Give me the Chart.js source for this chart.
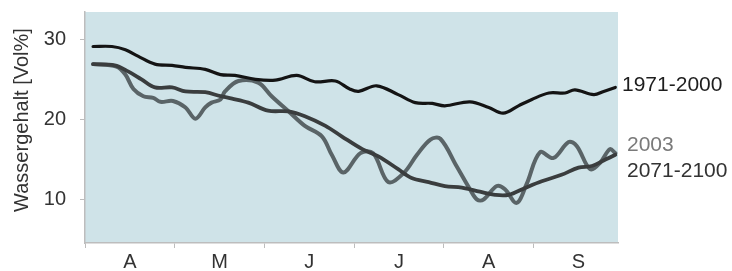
<!DOCTYPE html>
<html>
<head>
<meta charset="utf-8">
<script src="https://cdn.jsdelivr.net/npm/chart.js@4.4.0/dist/chart.umd.min.js"></script>
<style>
  html, body { margin: 0; padding: 0; background: #fff; }
  #wrap { width: 732px; height: 271px; }
</style>
</head>
<body>
<div id="wrap"><canvas id="chart"></canvas></div>
<script>
// months (x in month units, 0 = start of April)
const monthLabels = ["A", "M", "J", "J", "A", "S"]
const yTicks = [10, 20, 30]

// 1971-2000
const refX = [0.09, 0.30, 0.45, 0.59, 0.78, 0.97, 1.12, 1.34, 1.51, 1.67, 1.90, 2.12, 2.36, 2.56, 2.79, 2.95, 3.05, 3.25, 3.49, 3.68, 3.87, 4.01, 4.29, 4.50, 4.66, 4.83, 4.98, 5.17, 5.35, 5.46, 5.67, 5.78, 5.91]
const refY = [29.1, 29.1, 28.7, 27.9, 26.9, 26.75, 26.5, 26.25, 25.6, 25.5, 25.0, 24.9, 25.5, 24.7, 24.8, 23.8, 23.5, 24.2, 23.1, 22.1, 22.0, 21.7, 22.2, 21.5, 20.8, 21.7, 22.5, 23.3, 23.3, 23.7, 23.1, 23.5, 24.0]

// 2003
const y2003X = [0.09, 0.35, 0.45, 0.54, 0.65, 0.76, 0.84, 0.98, 1.12, 1.23, 1.34, 1.41, 1.51, 1.56, 1.71, 1.93, 2.08, 2.27, 2.45, 2.64, 2.75, 2.88, 3.07, 3.21, 3.38, 3.55, 3.70, 3.85, 3.96, 4.14, 4.29, 4.37, 4.44, 4.59, 4.68, 4.81, 4.92, 5.07, 5.22, 5.39, 5.48, 5.63, 5.74, 5.85, 5.91]
const y2003Y = [26.9, 26.6, 25.6, 23.8, 22.9, 22.7, 22.2, 22.3, 21.5, 20.1, 21.5, 22.1, 22.5, 23.5, 24.8, 24.6, 22.9, 21.0, 19.2, 17.9, 15.6, 13.4, 15.8, 15.8, 12.2, 13.3, 15.6, 17.5, 17.6, 14.2, 11.3, 10.0, 10.0, 11.7, 11.3, 9.6, 11.9, 15.9, 15.2, 17.2, 16.7, 13.8, 14.6, 16.3, 15.8]

// 2071-2100
const futX = [0.09, 0.33, 0.48, 0.63, 0.78, 0.97, 1.12, 1.34, 1.51, 1.64, 1.82, 2.04, 2.27, 2.45, 2.68, 2.86, 3.09, 3.27, 3.49, 3.64, 3.83, 4.01, 4.20, 4.40, 4.57, 4.72, 4.91, 5.09, 5.31, 5.50, 5.65, 5.80, 5.91]
const futY = [26.9, 26.75, 26.0, 25.0, 24.0, 24.0, 23.5, 23.4, 22.9, 22.6, 22.1, 21.1, 21.0, 20.4, 19.2, 17.9, 16.3, 15.4, 13.8, 12.7, 12.2, 11.7, 11.5, 11.0, 10.6, 10.6, 11.5, 12.3, 13.1, 14.0, 14.2, 15.0, 15.6]

const seriesNames = ["1971-2000", "2003", "2071-2100"]

function toPoints(xs, ys) {
  return xs.map((x, i) => ({ x: x, y: ys[i] }))
}

const FONT = "'Liberation Sans', Arial, sans-serif"

// light blue plot background + labels at the line ends
const decorations = {
  id: "decorations",
  beforeDraw(chart) {
    const a = chart.chartArea
    const c = chart.ctx
    c.save()
    c.fillStyle = "#cfe3e8"
    c.fillRect(a.left, a.top, a.right - a.left, a.bottom - a.top)
    c.restore()
  },
  afterDraw(chart) {
    const c = chart.ctx
    const ys = chart.scales.y
    c.save()
    c.textBaseline = "middle"
    c.font = "21px " + FONT

    const lastRef = ys.getPixelForValue(refY[refY.length - 1])
    const last2003 = ys.getPixelForValue(y2003Y[y2003Y.length - 1])
    const lastFut = ys.getPixelForValue(futY[futY.length - 1])

    c.fillStyle = "#1e1e1e"
    c.fillText(seriesNames[0], 622, lastRef - 2)
    c.fillStyle = "#7a7a7a"
    c.fillText(seriesNames[1], 627, last2003 - 8)
    c.fillStyle = "#333"
    c.fillText(seriesNames[2], 627, lastFut + 16)

    // y axis title
    c.translate(22, 120)
    c.rotate(-Math.PI / 2)
    c.textAlign = "center"
    c.fillStyle = "#333"
    c.font = "20px " + FONT
    c.fillText("Wassergehalt [Vol%]", 0, 0)
    c.restore()
  }
}

new Chart(document.getElementById("chart"), {
  type: "line",
  data: {
    datasets: [
      {
        label: seriesNames[0],
        data: toPoints(refX, refY),
        borderColor: "#141414",
        borderWidth: 3.2
      },
      {
        label: seriesNames[2],
        data: toPoints(futX, futY),
        borderColor: "#3a3d3e",
        borderWidth: 3.8
      },
      {
        label: seriesNames[1],
        data: toPoints(y2003X, y2003Y),
        borderColor: "#5a6467",
        borderWidth: 4
      }
    ]
  },
  options: {
    responsive: true,
    maintainAspectRatio: false,
    animation: false,
    layout: { padding: { top: 12, right: 114, left: 0, bottom: 0 } },
    elements: {
      point: { radius: 0 },
      line: { tension: 0.35, borderCapStyle: "round", borderJoinStyle: "round" }
    },
    plugins: {
      legend: { display: false },
      tooltip: { enabled: false }
    },
    scales: {
      x: {
        type: "linear",
        min: 0,
        max: 5.94,
        afterBuildTicks: (scale) => {
          scale.ticks = []
          for (let v = 0; v < 6; v += 0.5) scale.ticks.push({ value: v })
        },
        afterFit: (scale) => {
          scale.height = 28
          scale.paddingLeft = 0
          scale.paddingRight = 0
        },
        border: { display: true, color: "#bdbdbd", width: 1.5 },
        grid: {
          drawOnChartArea: false,
          tickLength: 5,
          tickColor: (ctx) => (ctx.tick && Number.isInteger(ctx.tick.value)) ? "#bdbdbd" : "rgba(0,0,0,0)"
        },
        ticks: {
          maxRotation: 0,
          autoSkip: false,
          padding: 2,
          color: "#333",
          font: { family: FONT, size: 20 },
          callback: (v) => Number.isInteger(v) ? "" : monthLabels[Math.floor(v)]
        }
      },
      y: {
        min: 4.6,
        max: 33.4,
        afterBuildTicks: (scale) => {
          scale.ticks = yTicks.map(v => ({ value: v }))
        },
        afterFit: (scale) => {
          scale.width = 85
          scale.paddingTop = 0
          scale.paddingBottom = 0
        },
        border: { display: true, color: "#bdbdbd", width: 1.5 },
        grid: { drawOnChartArea: false, tickLength: 5, tickColor: "#bdbdbd" },
        ticks: {
          padding: 14,
          color: "#333",
          font: { family: FONT, size: 20 }
        }
      }
    }
  },
  plugins: [decorations]
})
</script>
</body>
</html>
